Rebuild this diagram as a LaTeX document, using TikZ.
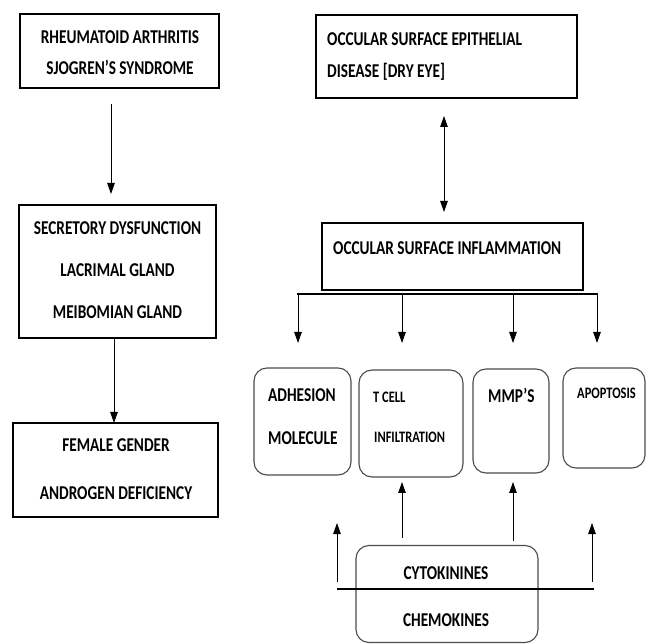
\documentclass[tikz,border=0pt]{standalone}
\usepackage{graphicx}
\usepackage{fontspec}
\setmainfont{Carlito}
\newcommand\condtext[1]{\scalebox{0.78}[1]{#1}}
\usetikzlibrary{arrows.meta,calc}
\begin{document}
\begin{tikzpicture}[x=1pt,y=-1pt,
  box/.style={draw,line width=1.4pt,inner sep=0pt,outer sep=0pt},
  rbox/.style={draw=black!70,line width=1.1pt,rounded corners=13pt,inner sep=0pt,outer sep=0pt},
  txt/.style={font=\fontsize{19.6}{21}\selectfont\bfseries,inner sep=0pt},
  stxt/.style={font=\fontsize{16}{18}\selectfont\bfseries,inner sep=0pt},
  arr/.style={-{Triangle[length=11pt,width=7.5pt]},line width=0.9pt},
  darr/.style={{Triangle[length=11pt,width=7.5pt]}-{Triangle[length=11pt,width=7.5pt]},line width=0.9pt},
  bus/.style={line width=1.4pt}]
\useasboundingbox (0,0) rectangle (646,644);
\fill[white] (0,0) rectangle (646,644);

% left column
\node[box,minimum width=199pt,minimum height=74pt] (b1) at (119.5,51) {};
\node[txt] (t1a) at (120,37) {\condtext{RHEUMATOID ARTHRITIS}};
\node[txt] (t1b) at (120,67) {\condtext{SJOGREN’S SYNDROME}};

\node[box,minimum width=197pt,minimum height=133pt] (b2) at (117.5,271.5) {};
\node[txt] (t2a) at (117.5,228) {\condtext{SECRETORY DYSFUNCTION}};
\node[txt] (t2b) at (117.5,270) {\condtext{LACRIMAL GLAND}};
\node[txt] (t2c) at (117.5,312) {\condtext{MEIBOMIAN GLAND}};

\node[box,minimum width=205pt,minimum height=94pt] (b3) at (115.5,470) {};
\node[txt] (t3a) at (116,445) {\condtext{FEMALE GENDER}};
\node[txt] (t3b) at (116,493) {\condtext{ANDROGEN DEFICIENCY}};

\draw[arr] ($(b1.south)+(-8.5,16)$) -- ($(b2.north)+(-6.5,-11)$);
\draw[arr] ($(b2.south)+(-3.5,0)$) -- ($(b3.north)+(-1.5,0)$);

% right column
\node[box,minimum width=261pt,minimum height=83pt] (b4) at (446.5,56.5) {};
\node[txt,anchor=west] (t4a) at (327,39) {\condtext{OCCULAR SURFACE EPITHELIAL}};
\node[txt,anchor=west] (t4b) at (327,72) {\condtext{DISEASE [DRY EYE]}};

\node[box,minimum width=261pt,minimum height=67pt] (b5) at (452.5,256.5) {};
\node[txt,anchor=west] (t5) at (333,248) {\condtext{OCCULAR SURFACE INFLAMMATION}};

\draw[darr] ($(b4.south)+(-2.5,18)$) -- ($(b5.north)+(-8.5,-11)$);

\coordinate (busL) at (297,294);
\coordinate (busR) at (598,294);
\draw[bus] (busL) -- (busR);

\node[rbox,minimum width=97pt,minimum height=107pt] (adh) at (302.5,421.5) {};
\node[txt,anchor=west] (ta1) at (268,395) {\condtext{ADHESION}};
\node[txt,anchor=west] (ta2) at (268,438) {\condtext{MOLECULE}};

\node[rbox,minimum width=104pt,minimum height=107pt] (tcell) at (411,423.5) {};
\node[stxt,anchor=west] (tt1) at (373,397) {\condtext{T CELL}};
\node[stxt,anchor=west] (tt2) at (374,437) {\condtext{INFILTRATION}};

\node[rbox,minimum width=76pt,minimum height=104pt] (mmp) at (511,421) {};
\node[txt,anchor=west] (tm) at (488,395) {\condtext{MMP’S}};

\node[rbox,minimum width=82pt,minimum height=100pt] (apop) at (604,418) {};
\node[stxt,anchor=west] (tap) at (577,393) {\condtext{APOPTOSIS}};

\draw[arr] ($(busL)+(1,0)$) -- ($(adh.north)+(-4.5,-25)$);
\draw[arr] ($(busL)+(105,0)$) -- ($(tcell.north)+(-9,-27)$);
\draw[arr] ($(busL)+(216,0)$) -- ($(mmp.north)+(2,-26)$);
\draw[arr] ($(busR)+(-1,0)$) -- ($(apop.north)+(-7,-25)$);

\node[rbox,minimum width=182pt,minimum height=97pt] (cyto) at (447,594) {};
\node[txt] (tc1) at (446,573) {\condtext{CYTOKININES}};
\node[txt] (tc2) at (446,620) {\condtext{CHEMOKINES}};

\coordinate (hlL) at (337,589);
\coordinate (hlR) at (594,589);
\draw[bus] (hlL) -- (hlR);

\draw[arr] ($(cyto.north)+(-45,-8)$) -- ($(tcell.south)+(-9,5)$);
\draw[arr] ($(cyto.north)+(66,-5)$) -- ($(mmp.south)+(2,9)$);
\draw[arr] ($(hlL)+(0,-7)$) -- ($(adh.south)+(34.5,48)$);
\draw[arr] ($(hlR)+(-2,-7)$) -- ($(apop.south)+(-12,55)$);
\end{tikzpicture}
\end{document}
